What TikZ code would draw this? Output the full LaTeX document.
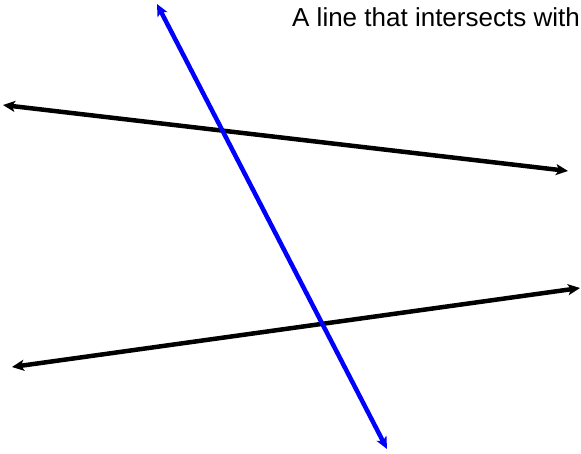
\documentclass[tikz,border=0pt]{standalone}
\usepackage{fontspec}
\setmainfont{Liberation Sans}
\usepackage{xcolor}
\usepackage{tikz}
\usetikzlibrary{arrows.meta}
\definecolor{lnblue}{HTML}{0000FF}
\definecolor{lnink}{HTML}{000000}
\tikzset{
  ln/.style={{Stealth[length=12pt,width=11pt,inset=3pt]}-{Stealth[length=12pt,width=11pt,inset=3pt]},
    line width=4.5pt,color=lnink},
  trans/.style={ln,color=lnblue},
  captxt/.style={anchor=base west,inner sep=0pt,font=\fontsize{26}{30}\selectfont},
}
\begin{document}
\begin{tikzpicture}[x=1pt,y=-1pt]
\useasboundingbox (0,0) rectangle (581,454);
\coordinate (pa) at (3,105); \coordinate (pb) at (568,171);
\coordinate (qa) at (12,367); \coordinate (qb) at (580,288);
\coordinate (ta) at (157,4); \coordinate (tb) at (387,449);
\node[captxt] (title) at (292,27) {A line that intersects with};
\draw[ln] (pa)--(pb);
\draw[ln] (qa)--(qb);
\draw[trans] (ta)--(tb);
\end{tikzpicture}
\end{document}
